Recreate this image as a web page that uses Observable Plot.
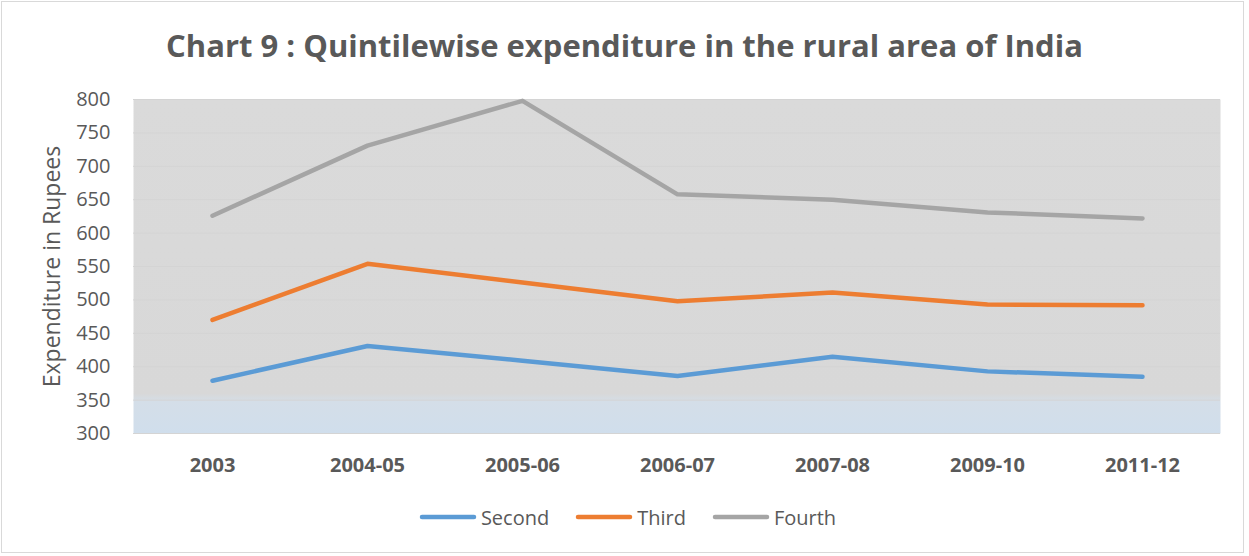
<!DOCTYPE html>
<html>
<head>
<meta charset="utf-8">
<script src="https://cdn.jsdelivr.net/npm/d3@7"></script>
<script src="https://cdn.jsdelivr.net/npm/@observablehq/plot@0.6"></script>
<style>
  body { margin: 0; background: #fff; font-family: "Open Sans", sans-serif; }
  #wrap { position: relative; width: 1249px; height: 556px; overflow: hidden; }
  #border { position: absolute; left: 1px; top: 1px; width: 1241px; height: 550px; border: 1px solid #d9d9d9; pointer-events: none; }
  #title { height: 50px; padding-top: 20px; line-height: 50px; text-align: center; font-weight: bold; font-size: 31px; color: #595959; white-space: nowrap; }
  #legend { display: flex; justify-content: center; align-items: center; height: 74px; color: #595959; font-size: 20px; padding-left: 6px; }
  .item { display: flex; align-items: center; margin: 0 13px; }
  .item svg { margin-right: 4px; }
</style>
</head>
<body>
<div id="wrap">
  <div id="title">Chart 9 : Quintilewise expenditure in the rural area of India</div>
  <div id="chart"></div>
  <div id="legend"></div>
  <div id="border"></div>
</div>
<script>
const categories = ["2003", "2004-05", "2005-06", "2006-07", "2007-08", "2009-10", "2011-12"];
const seriesNames = ["Second", "Third", "Fourth"];
const second = [379, 431, 409, 386, 415, 393, 385];
const third = [470, 554, 526, 498, 511, 493, 492];
const fourth = [626, 731, 798, 658, 650, 631, 622];
const yTicks = [300, 350, 400, 450, 500, 550, 600, 650, 700, 750, 800];
const yLabel = "Expenditure in Rupees";
const colors = ["#5B9BD5", "#ED7D31", "#A5A5A5"];

const seriesValues = [second, third, fourth];
const data = [];
seriesNames.forEach((name, i) => {
  categories.forEach((c, j) => data.push({series: name, cat: c, value: seriesValues[i][j]}));
});

const chart = Plot.plot({
  width: 1249,
  height: 410,
  marginTop: 29,
  marginBottom: 47,
  marginLeft: 133,
  marginRight: 29,
  style: {fontFamily: "'Open Sans', sans-serif", color: "#595959", background: "transparent"},
  x: {type: "point", domain: categories, padding: 0.5, align: 0.5},
  y: {domain: [300, 800]},
  color: {domain: seriesNames, range: colors},
  marks: [
    Plot.frame({fill: "url(#bgGrad)", stroke: null}),
    Plot.ruleY(yTicks, {stroke: "#d4d4d4", strokeWidth: 1}),
    Plot.axisY({ticks: yTicks, tickSize: 0, tickPadding: 23, fontSize: 20, fill: "#595959", label: null}),
    Plot.text([yLabel], {frameAnchor: "left", dx: -81, rotate: -90, fontSize: 23, fill: "#595959",
      textAnchor: "middle", lineAnchor: "middle"}),
    Plot.axisX({tickSize: 0, tickPadding: 24, fontSize: 20, fontWeight: "bold", fill: "#595959", label: null}),
    Plot.lineY(data, {x: "cat", y: "value", stroke: "series", z: "series", strokeWidth: 4.5,
      strokeLinecap: "round", strokeLinejoin: "round"})
  ]
});

const svg = d3.select(chart);
const defs = svg.insert("defs", ":first-child");
const grad = defs.append("linearGradient").attr("id", "bgGrad").attr("x1", 0).attr("y1", 0).attr("x2", 0).attr("y2", 1);
[["0%", "#dadada"], ["88%", "#d8d8d8"], ["90.5%", "#d4dee8"], ["100%", "#d0deec"]].forEach(([o, c]) =>
  grad.append("stop").attr("offset", o).attr("stop-color", c));
document.getElementById("chart").appendChild(chart);

const legend = d3.select("#legend");
seriesNames.forEach((name, i) => {
  const it = legend.append("div").attr("class", "item");
  const s = it.append("svg").attr("width", 58).attr("height", 10);
  s.append("line").attr("x1", 3).attr("x2", 55).attr("y1", 5).attr("y2", 5)
    .attr("stroke", colors[i]).attr("stroke-width", 4.5).attr("stroke-linecap", "round");
  it.append("span").text(name);
});
</script>
</body>
</html>
